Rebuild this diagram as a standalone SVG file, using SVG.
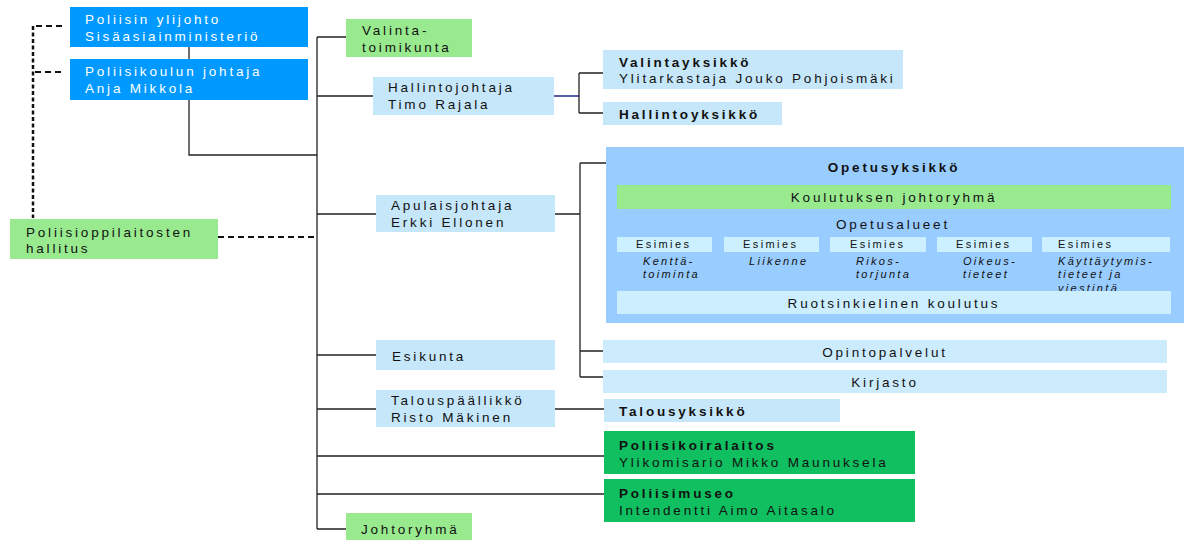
<svg xmlns="http://www.w3.org/2000/svg" width="1184" height="540" viewBox="0 0 1184 540">
<style>
text{font-family:"Liberation Sans",Arial,sans-serif;font-size:13.5px;letter-spacing:2.8px;fill:#111}
.w{fill:#fff}
.b{font-weight:bold}
.c{text-anchor:middle}
.s{font-size:11px;letter-spacing:2.4px}
.i{font-size:11px;font-style:italic;letter-spacing:2.3px}
.blue{fill:#0099FF}
.lg{fill:#99EA8F}
.lb{fill:#C6E7F9}
.dg{fill:#10BF60}
.op{fill:#99CCFF}
.pb{fill:#CCF0FF}
.ln{fill:none;stroke:#222;stroke-width:1.3}
.ds{fill:none;stroke:#111;stroke-width:2;stroke-dasharray:6,4}
.dv{fill:none;stroke:#111;stroke-width:2.5;stroke-dasharray:4,2.5}
</style>
<g id="connectors">
<path class="ds" d="M62,26 H35 M35,72 H62 M218,237 H317"/>
<path class="dv" d="M33,26 V218"/>
<path class="ln" d="M189,47 V59 M189,100 V155 H317 M317,37 V529 M317,37 H346 M317,96 H373 M317,214 H376 M317,355 H376 M317,409 H376 M317,456 H604 M317,494 H604 M317,529 H346"/>
<path class="ln" d="M579,73 V113 M579,73 H603 M579,113 H603"/>
<path fill="none" stroke="#000080" stroke-width="1.3" d="M554,96 H579"/>
<path class="ln" d="M555,214 H580 M580,163 V377 M580,163 H606 M580,351 H604 M580,377 H604 M555,409 H604"/>
</g>
<g id="n-ylijohto"><rect class="blue" x="70" y="7" width="238" height="40"/><text class="w" x="85" y="24">Poliisin ylijohto</text><text class="w" x="85" y="41">Sisäasiainministeriö</text></g>
<g id="n-johtaja"><rect class="blue" x="70" y="59" width="238" height="41"/><text class="w" x="85" y="76">Poliisikoulun johtaja</text><text class="w" x="85" y="93">Anja Mikkola</text></g>
<g id="n-hallitus"><rect class="lg" x="10" y="219" width="208" height="40"/><text x="26" y="237">Poliisioppilaitosten</text><text x="26" y="253">hallitus</text></g>
<g id="n-valintatoimikunta"><rect class="lg" x="346" y="19" width="126" height="38"/><text x="362" y="35">Valinta-</text><text x="362" y="52">toimikunta</text></g>
<g id="n-hallintojohtaja"><rect class="lb" x="373" y="77" width="181" height="38"/><text x="388" y="92">Hallintojohtaja</text><text x="388" y="109">Timo Rajala</text></g>
<g id="n-valintayksikko"><rect class="lb" x="603" y="50" width="300" height="39"/><text class="b" x="619" y="67">Valintayksikkö</text><text x="619" y="83">Ylitarkastaja Jouko Pohjoismäki</text></g>
<g id="n-hallintoyksikko"><rect class="lb" x="603" y="102" width="179" height="23"/><text class="b" x="619" y="119">Hallintoyksikkö</text></g>
<g id="n-apulaisjohtaja"><rect class="lb" x="376" y="195" width="179" height="37"/><text x="391" y="210">Apulaisjohtaja</text><text x="391" y="227">Erkki Ellonen</text></g>
<g id="n-opetusyksikko">
<rect class="op" x="606" y="147" width="578" height="176"/>
<text class="b c" x="894" y="172">Opetusyksikkö</text>
<rect class="lg" x="617" y="185" width="554" height="24"/>
<text class="c" x="894" y="202">Koulutuksen johtoryhmä</text>
<text class="c" x="893" y="229">Opetusalueet</text>
<rect class="pb" x="617" y="237" width="95" height="15"/><rect class="pb" x="724" y="237" width="95" height="15"/><rect class="pb" x="830" y="237" width="96" height="15"/><rect class="pb" x="937" y="237" width="95" height="15"/><rect class="pb" x="1042" y="237" width="128" height="15"/>
<text class="s" x="636" y="248">Esimies</text><text class="s" x="743" y="248">Esimies</text><text class="s" x="850" y="248">Esimies</text><text class="s" x="956" y="248">Esimies</text><text class="s" x="1058" y="248">Esimies</text>
<text class="i" x="643" y="265">Kenttä-</text><text class="i" x="643" y="278">toiminta</text>
<text class="i" x="749" y="265">Liikenne</text>
<text class="i" x="856" y="265">Rikos-</text><text class="i" x="856" y="278">torjunta</text>
<text class="i" x="963" y="265">Oikeus-</text><text class="i" x="963" y="278">tieteet</text>
<text class="i" x="1058" y="265">Käyttäytymis-</text><text class="i" x="1058" y="278">tieteet ja</text><text class="i" x="1058" y="292">viestintä</text>
<rect fill="#CCEEFF" x="617" y="291" width="554" height="23"/>
<text class="c" x="894" y="308">Ruotsinkielinen koulutus</text>
</g>
<g id="n-opintopalvelut"><rect fill="#CCEBFC" x="603" y="340" width="564" height="23"/><text class="c" x="885" y="357">Opintopalvelut</text></g>
<g id="n-kirjasto"><rect fill="#CCEBFC" x="603" y="370" width="564" height="23"/><text class="c" x="885" y="387">Kirjasto</text></g>
<g id="n-esikunta"><rect class="lb" x="376" y="340" width="179" height="30"/><text x="392" y="361">Esikunta</text></g>
<g id="n-talouspaallikko"><rect class="lb" x="376" y="390" width="179" height="37"/><text x="391" y="405">Talouspäällikkö</text><text x="391" y="422">Risto Mäkinen</text></g>
<g id="n-talousyksikko"><rect class="lb" x="604" y="399" width="236" height="23"/><text class="b" x="619" y="416">Talousyksikkö</text></g>
<g id="n-koiralaitos"><rect class="dg" x="604" y="431" width="311" height="43"/><text class="b" x="619" y="450">Poliisikoiralaitos</text><text x="619" y="467">Ylikomisario Mikko Maunuksela</text></g>
<g id="n-museo"><rect class="dg" x="604" y="479" width="311" height="43"/><text class="b" x="619" y="498">Poliisimuseo</text><text x="619" y="515">Intendentti Aimo Aitasalo</text></g>
<g id="n-johtoryhma"><rect class="lg" x="346" y="513" width="126" height="27"/><text x="361" y="534">Johtoryhmä</text></g>
</svg>
